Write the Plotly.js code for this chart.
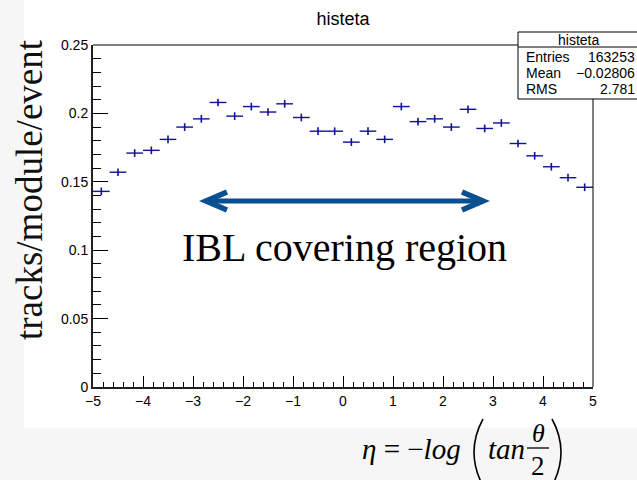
<!DOCTYPE html>
<html>
<head>
<meta charset="utf-8">
<script src="https://cdn.plot.ly/plotly-3.0.1.min.js"></script>
<style>html,body{margin:0;padding:0;background:#fff;}#chart{width:637px;height:480px;}</style>
</head>
<body>
<div id="chart"></div>
<script>
// ---- data ----
const binCenters = [-4.8333,-4.5,-4.1667,-3.8333,-3.5,-3.1667,-2.8333,-2.5,-2.1667,-1.8333,
                    -1.5,-1.1667,-0.8333,-0.5,-0.1667,0.1667,0.5,0.8333,1.1667,1.5,
                    1.8333,2.1667,2.5,2.8333,3.1667,3.5,3.8333,4.1667,4.5,4.8333];
const binHalfWidth = [0.1667,0.1667,0.1667,0.1667,0.1667,0.1667,0.1667,0.1667,0.1667,0.1667,
                      0.1667,0.1667,0.1667,0.1667,0.1667,0.1667,0.1667,0.1667,0.1667,0.1667,
                      0.1667,0.1667,0.1667,0.1667,0.1667,0.1667,0.1667,0.1667,0.1667,0.1667];
const tracksPerModule = [0.143,0.157,0.171,0.173,0.181,0.190,0.196,0.208,0.198,0.205,
                         0.201,0.207,0.197,0.187,0.187,0.179,0.187,0.181,0.205,0.194,
                         0.196,0.190,0.203,0.189,0.193,0.178,0.169,0.161,0.153,0.146];
const errors = [0.0028,0.0028,0.0028,0.0028,0.0028,0.0028,0.0028,0.0028,0.0028,0.0028,
                0.0028,0.0028,0.0028,0.0028,0.0028,0.0028,0.0028,0.0028,0.0028,0.0028,
                0.0028,0.0028,0.0028,0.0028,0.0028,0.0028,0.0028,0.0028,0.0028,0.0028];
const statLabels = ["Entries","Mean","RMS"];
const statValues = ["163253","\u22120.02806","2.781"];
const histName = "histeta";
const arrowFrom = -2.74, arrowTo = 2.8, arrowY = 0.136;

// ---- geometry helpers (plot area in pixels) ----
const L = 93, R = 593, T = 45, B = 387;
const px = x => (x - L) / (R - L);
const py = y => (B - y) / (B - T);

const blue = '#0a4f8f';
const markColor = '#10109a';

const trace = {
  x: binCenters, y: tracksPerModule, type: 'scatter', mode: 'markers',
  marker: {size: 1, color: markColor, opacity: 0},
  error_x: {type: 'data', array: binHalfWidth, visible: true, width: 0, thickness: 1.4, color: markColor},
  error_y: {type: 'data', array: errors, visible: true, width: 0, thickness: 1.6, color: markColor},
  hoverinfo: 'skip', showlegend: false
};

const serif = 'Liberation Serif, Times New Roman, serif';
const sans = 'Liberation Sans, Arial, Helvetica, sans-serif';

const annotations = [
  // stats box
  {xref:'paper', yref:'paper', x: px(578), y: py(40), text: histName, showarrow:false, xanchor:'center', yanchor:'middle', font:{family:sans, size:14, color:'#000'}},
  ...statLabels.map((s, i) => ({xref:'paper', yref:'paper', x: px(524), y: py(57 + i*16), text: s, showarrow:false, xanchor:'left', yanchor:'middle', font:{family:sans, size:14, color:'#000'}})),
  ...statValues.map((s, i) => ({xref:'paper', yref:'paper', x: px(637), y: py(57 + i*16), text: s, showarrow:false, xanchor:'right', yanchor:'middle', font:{family:sans, size:14, color:'#000'}})),
  // y axis title
  {xref:'paper', yref:'paper', x: px(30), y: py(190), text: 'tracks/module/event', textangle: -90, showarrow:false, xanchor:'center', yanchor:'middle', font:{family:serif, size:37, color:'#111'}},
  // IBL text
  {xref:'paper', yref:'paper', x: px(344), y: py(247), text: 'IBL covering region', showarrow:false, xanchor:'center', yanchor:'middle', font:{family:serif, size:40, color:'#000'}},
  // x title formula
  {xref:'paper', yref:'paper', x: px(360), y: py(449), text: '<i>η</i> = −<i>log</i>', showarrow:false, xanchor:'left', yanchor:'middle', font:{family:serif, size:29, color:'#000'}},
  {xref:'paper', yref:'paper', x: px(486), y: py(449), text: '<i>tan</i>', showarrow:false, xanchor:'left', yanchor:'middle', font:{family:serif, size:29, color:'#000'}},
  {xref:'paper', yref:'paper', x: px(538), y: py(433), text: '<i>θ</i>', showarrow:false, xanchor:'center', yanchor:'middle', font:{family:serif, size:26, color:'#000'}},
  {xref:'paper', yref:'paper', x: px(538), y: py(466), text: '2', showarrow:false, xanchor:'center', yanchor:'middle', font:{family:serif, size:27, color:'#000'}}
];

const headDx = 0.42, headDy = 0.0066;
const shapes = [
  // background texture approximation
  {type:'rect', xref:'paper', yref:'paper', x0: px(0), x1: px(637), y0: py(480), y1: py(428), fillcolor:'#f6f6f6', line:{width:0}, layer:'below'},
  {type:'rect', xref:'paper', yref:'paper', x0: px(0), x1: px(24), y0: py(428), y1: py(0), fillcolor:'#f6f6f6', line:{width:0}, layer:'below'},
  // frame top and right
  {type:'line', xref:'paper', yref:'paper', x0:0, x1:1, y0:1, y1:1, line:{color:'#000', width:1}},
  {type:'line', xref:'paper', yref:'paper', x0:1, x1:1, y0:0, y1:1, line:{color:'#000', width:1}},
  // arrow
  {type:'line', xref:'x', yref:'y', x0: arrowFrom + 0.04, x1: arrowTo - 0.04, y0: arrowY, y1: arrowY, line:{color: blue, width:5}},
  {type:'path', xref:'x', yref:'y', path: `M ${arrowFrom+headDx},${arrowY+headDy} L ${arrowFrom},${arrowY} L ${arrowFrom+headDx},${arrowY-headDy}`, line:{color: blue, width:5.5}},
  {type:'path', xref:'x', yref:'y', path: `M ${arrowTo-headDx},${arrowY+headDy} L ${arrowTo},${arrowY} L ${arrowTo-headDx},${arrowY-headDy}`, line:{color: blue, width:5.5}},
  // formula parentheses and fraction bar
  {type:'path', xref:'paper', yref:'paper', path: `M ${px(483)},${py(419)} Q ${px(465)},${py(452)} ${px(483)},${py(486)}`, line:{color:'#000', width:1.6}},
  {type:'path', xref:'paper', yref:'paper', path: `M ${px(552)},${py(419)} Q ${px(570)},${py(452)} ${px(552)},${py(486)}`, line:{color:'#000', width:1.6}},
  {type:'line', xref:'paper', yref:'paper', x0: px(527), x1: px(549), y0: py(448), y1: py(448), line:{color:'#000', width:1.3}},
  // stats box
  {type:'rect', xref:'paper', yref:'paper', x0: px(518), x1: px(660), y0: py(99), y1: py(32), fillcolor:'#fff', line:{color:'#000', width:1}},
  {type:'line', xref:'paper', yref:'paper', x0: px(518), x1: px(660), y0: py(47), y1: py(47), line:{color:'#000', width:1}}
];

const layout = {
  width: 637, height: 480,
  margin: {l: L, r: 637 - R, t: T, b: 480 - B, pad: 0},
  paper_bgcolor: '#fff', plot_bgcolor: '#fff',
  font: {family: sans, size: 14, color: '#000'},
  title: {text: histName, x: 343/637, xanchor:'center', y: 1 - 19/480, yanchor:'middle', font:{family: sans, size: 18, color:'#000'}},
  xaxis: {
    range: [-5, 5], dtick: 1, tick0: -5, ticks: 'inside', ticklen: 11, tickwidth: 1, tickcolor: '#000',
    showline: true, linewidth: 2, linecolor: '#222', zeroline: false, showgrid: false,
    tickfont: {family: sans, size: 14, color: '#000'},
    minor: {dtick: 0.2, tick0: -5, ticks: 'inside', ticklen: 5, tickwidth: 1, tickcolor: '#000', showgrid: false}
  },
  yaxis: {
    range: [0, 0.25], dtick: 0.05, tick0: 0, ticks: 'inside', ticklen: 15, tickwidth: 1, tickcolor: '#000',
    showline: true, linewidth: 2, linecolor: '#222', zeroline: false, showgrid: false,
    tickfont: {family: sans, size: 14, color: '#000'},
    minor: {dtick: 0.01, tick0: 0, ticks: 'inside', ticklen: 8, tickwidth: 1, tickcolor: '#000', showgrid: false}
  },
  shapes: shapes,
  annotations: annotations,
  showlegend: false
};

Plotly.newPlot('chart', [trace], layout, {staticPlot: true, displayModeBar: false});
</script>
</body>
</html>
